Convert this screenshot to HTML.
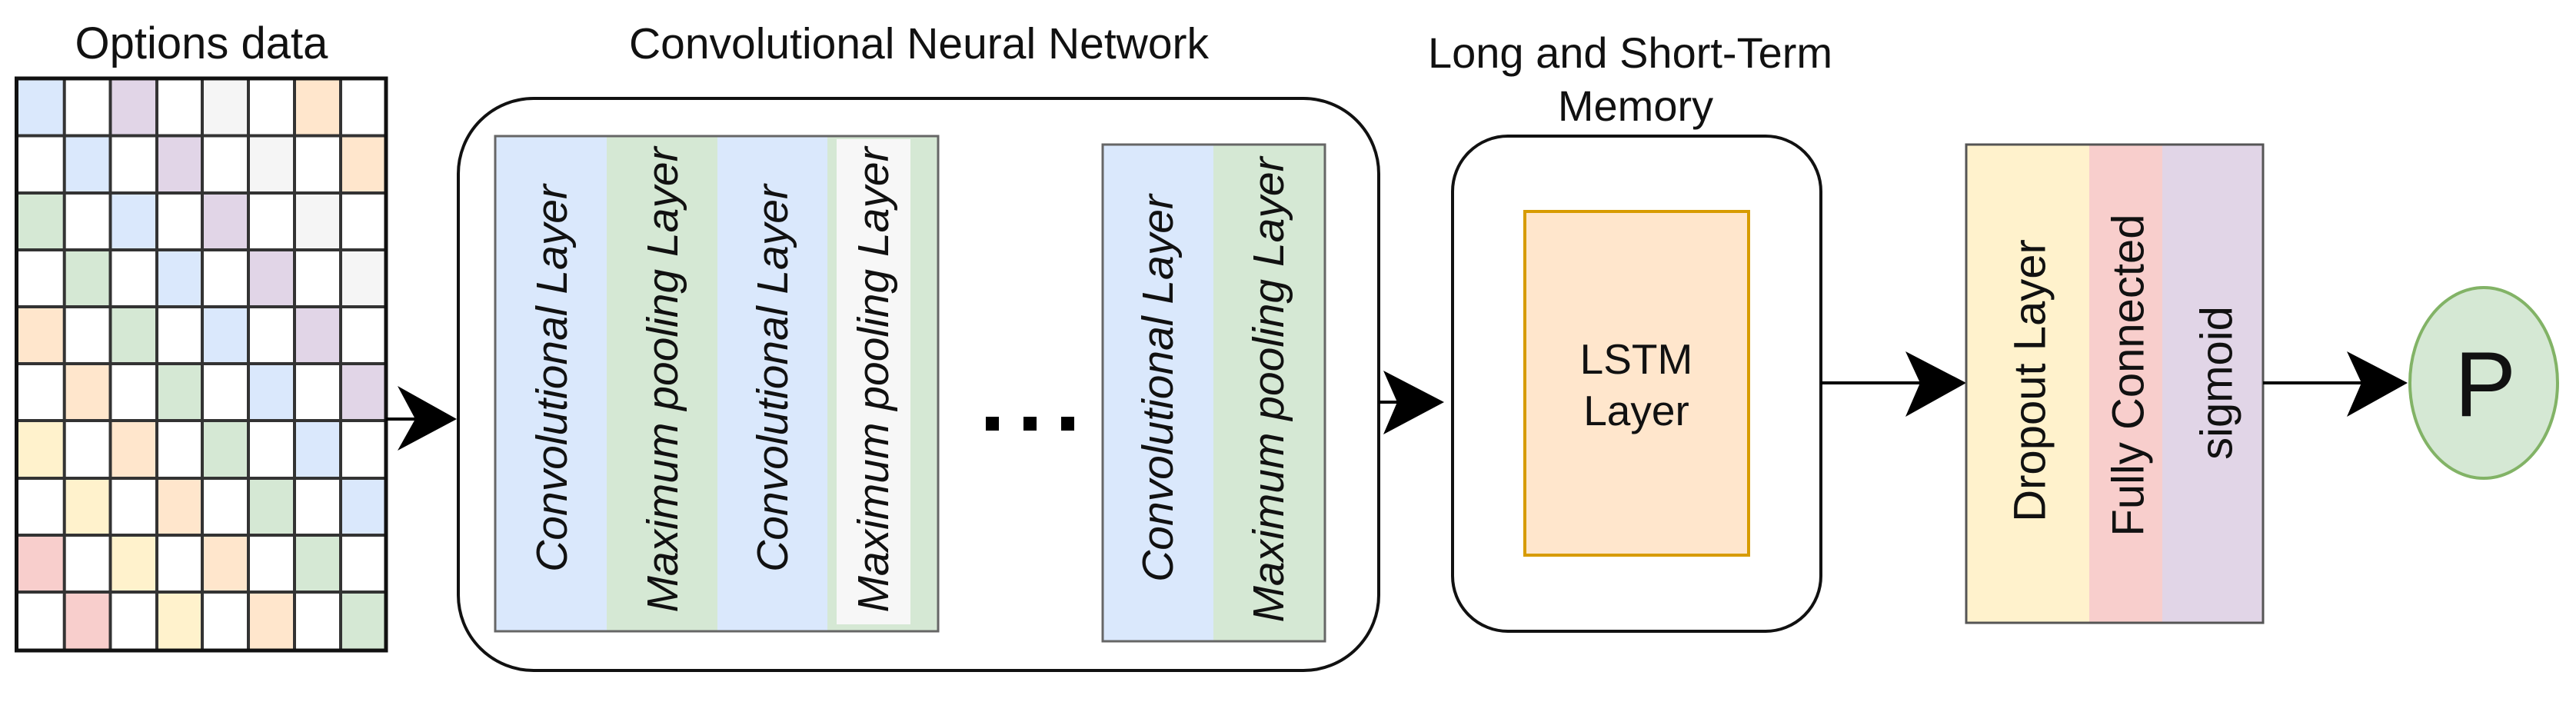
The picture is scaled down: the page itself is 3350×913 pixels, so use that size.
<!DOCTYPE html>
<html><head><meta charset="utf-8"><style>
html,body{margin:0;padding:0;background:#fff;}
svg{display:block;}
text{font-family:"Liberation Sans",Arial,sans-serif;fill:#111;}
</style></head><body>
<svg width="3350" height="913" viewBox="0 0 3350 913" xmlns="http://www.w3.org/2000/svg">
<!-- titles -->
<text x="262" y="76" font-size="58" text-anchor="middle">Options data</text>
<text x="1195" y="76" font-size="57" text-anchor="middle">Convolutional Neural Network</text>
<text x="2120" y="88" font-size="56" text-anchor="middle">Long and Short-Term</text>
<text x="2127" y="157" font-size="56" text-anchor="middle">Memory</text>

<!-- grid -->
<g id="grid">
<!-- row y: 102,176.5,251,325,399,473,547,622,696,770,846 ; col x: 21.5,83.7,143.5,204,263,323,383,443,502 -->
</g>
<g stroke="none">
<!-- colored cells -->
<rect x="21" y="102" width="62" height="75" fill="#dae8fc"/>
<rect x="143" y="102" width="61" height="75" fill="#e1d5e7"/>
<rect x="263" y="102" width="60" height="75" fill="#f5f5f5"/>
<rect x="383" y="102" width="60" height="75" fill="#ffe6cc"/>

<rect x="83" y="176" width="61" height="75" fill="#dae8fc"/>
<rect x="204" y="176" width="59" height="75" fill="#e1d5e7"/>
<rect x="323" y="176" width="60" height="75" fill="#f5f5f5"/>
<rect x="443" y="176" width="59" height="75" fill="#ffe6cc"/>

<rect x="21" y="251" width="62" height="74" fill="#d5e8d4"/>
<rect x="143" y="251" width="61" height="74" fill="#dae8fc"/>
<rect x="263" y="251" width="60" height="74" fill="#e1d5e7"/>
<rect x="383" y="251" width="60" height="74" fill="#f5f5f5"/>

<rect x="83" y="325" width="61" height="74" fill="#d5e8d4"/>
<rect x="204" y="325" width="59" height="74" fill="#dae8fc"/>
<rect x="323" y="325" width="60" height="74" fill="#e1d5e7"/>
<rect x="443" y="325" width="59" height="74" fill="#f5f5f5"/>

<rect x="21" y="399" width="62" height="74" fill="#ffe6cc"/>
<rect x="143" y="399" width="61" height="74" fill="#d5e8d4"/>
<rect x="263" y="399" width="60" height="74" fill="#dae8fc"/>
<rect x="383" y="399" width="60" height="74" fill="#e1d5e7"/>

<rect x="83" y="473" width="61" height="74" fill="#ffe6cc"/>
<rect x="204" y="473" width="59" height="74" fill="#d5e8d4"/>
<rect x="323" y="473" width="60" height="74" fill="#dae8fc"/>
<rect x="443" y="473" width="59" height="74" fill="#e1d5e7"/>

<rect x="21" y="547" width="62" height="75" fill="#fff2cc"/>
<rect x="143" y="547" width="61" height="75" fill="#ffe6cc"/>
<rect x="263" y="547" width="60" height="75" fill="#d5e8d4"/>
<rect x="383" y="547" width="60" height="75" fill="#dae8fc"/>

<rect x="83" y="622" width="61" height="74" fill="#fff2cc"/>
<rect x="204" y="622" width="59" height="74" fill="#ffe6cc"/>
<rect x="323" y="622" width="60" height="74" fill="#d5e8d4"/>
<rect x="443" y="622" width="59" height="74" fill="#dae8fc"/>

<rect x="21" y="696" width="62" height="74" fill="#f8cecc"/>
<rect x="143" y="696" width="61" height="74" fill="#fff2cc"/>
<rect x="263" y="696" width="60" height="74" fill="#ffe6cc"/>
<rect x="383" y="696" width="60" height="74" fill="#d5e8d4"/>

<rect x="83" y="770" width="61" height="76" fill="#f8cecc"/>
<rect x="204" y="770" width="59" height="76" fill="#fff2cc"/>
<rect x="323" y="770" width="60" height="76" fill="#ffe6cc"/>
<rect x="443" y="770" width="59" height="76" fill="#d5e8d4"/>
</g>
<g stroke="#333" stroke-width="4" fill="none">
<path d="M83.7 102V846M143.5 102V846M204 102V846M263 102V846M323 102V846M383 102V846M443 102V846"/>
<path d="M21.5 176.5H502M21.5 251H502M21.5 325H502M21.5 399H502M21.5 473H502M21.5 547H502M21.5 622H502M21.5 696H502M21.5 770H502"/>
<rect x="21.5" y="102" width="480.5" height="744" stroke="#111" stroke-width="5"/>
</g>

<!-- arrow 1 -->
<line x1="502" y1="545" x2="540" y2="545" stroke="#000" stroke-width="4"/>
<polygon points="594,545 517,502 540,545 517,586" fill="#000"/>

<!-- CNN box -->
<rect x="596" y="128" width="1197" height="744" rx="98" ry="98" fill="none" stroke="#111" stroke-width="4"/>
<g stroke="none">
<rect x="644" y="177" width="145" height="644" fill="#dae8fc"/>
<rect x="789" y="177" width="144" height="644" fill="#d5e8d4"/>
<rect x="933" y="177" width="143" height="644" fill="#dae8fc"/>
<rect x="1076" y="177" width="144" height="644" fill="#d5e8d4"/>
<rect x="1088" y="181" width="96" height="631" fill="#f7f7f7"/>
</g>
<rect x="644" y="177" width="576" height="644" fill="none" stroke="#666" stroke-width="3"/>
<g font-size="57" font-style="italic" text-anchor="middle">
<text transform="translate(718,492) rotate(-90)" dominant-baseline="central">Convolutional Layer</text>
<text transform="translate(862,494) rotate(-90)" dominant-baseline="central">Maximum pooling Layer</text>
<text transform="translate(1005,492) rotate(-90)" dominant-baseline="central">Convolutional Layer</text>
<text transform="translate(1136,494) rotate(-90)" dominant-baseline="central">Maximum pooling Layer</text>
</g>
<g fill="#000">
<rect x="1282" y="542" width="17" height="18"/>
<rect x="1331" y="542" width="17" height="18"/>
<rect x="1380" y="542" width="17" height="18"/>
</g>
<rect x="1434" y="188" width="144" height="646" fill="#dae8fc"/>
<rect x="1578" y="188" width="145" height="646" fill="#d5e8d4"/>
<rect x="1434" y="188" width="289" height="646" fill="none" stroke="#666" stroke-width="3"/>
<g font-size="57" font-style="italic" text-anchor="middle">
<text transform="translate(1506,505) rotate(-90)" dominant-baseline="central">Convolutional Layer</text>
<text transform="translate(1650,507) rotate(-90)" dominant-baseline="central">Maximum pooling Layer</text>
</g>

<!-- arrow 2 -->
<line x1="1793" y1="523" x2="1820" y2="523" stroke="#000" stroke-width="4"/>
<polygon points="1878,523 1799,482 1817,523 1799,565" fill="#000"/>

<!-- LSTM box -->
<rect x="1889" y="177" width="479" height="644" rx="72" ry="72" fill="none" stroke="#111" stroke-width="4"/>
<rect x="1983" y="275" width="291" height="447" fill="#ffe6cc" stroke="#d79b00" stroke-width="4"/>
<text x="2128" y="486" font-size="55" text-anchor="middle">LSTM</text>
<text x="2128" y="553" font-size="55" text-anchor="middle">Layer</text>

<!-- arrow 3 -->
<line x1="2368" y1="498" x2="2500" y2="498" stroke="#000" stroke-width="4"/>
<polygon points="2557,498 2478,457 2497,498 2478,542" fill="#000"/>

<!-- final block -->
<rect x="2557" y="188" width="160" height="622" fill="#fff2cc"/>
<rect x="2717" y="188" width="95" height="622" fill="#f8cecc"/>
<rect x="2812" y="188" width="131" height="622" fill="#e1d5e7"/>
<rect x="2557" y="188" width="386" height="622" fill="none" stroke="#555" stroke-width="3"/>
<g font-size="58" text-anchor="middle">
<text transform="translate(2640,495) rotate(-90)" dominant-baseline="central">Dropout Layer</text>
<text transform="translate(2768,488) rotate(-90)" dominant-baseline="central">Fully Connected</text>
<text transform="translate(2883,498) rotate(-90)" dominant-baseline="central">sigmoid</text>
</g>

<!-- arrow 4 -->
<line x1="2943" y1="498" x2="3075" y2="498" stroke="#000" stroke-width="4"/>
<polygon points="3131,498 3052,457 3071,498 3052,542" fill="#000"/>

<!-- P circle -->
<ellipse cx="3230" cy="498" rx="96" ry="124" fill="#d5e8d4" stroke="#82b366" stroke-width="4"/>
<text x="3232" y="541" font-size="120" text-anchor="middle">P</text>
</svg>
</body></html>
